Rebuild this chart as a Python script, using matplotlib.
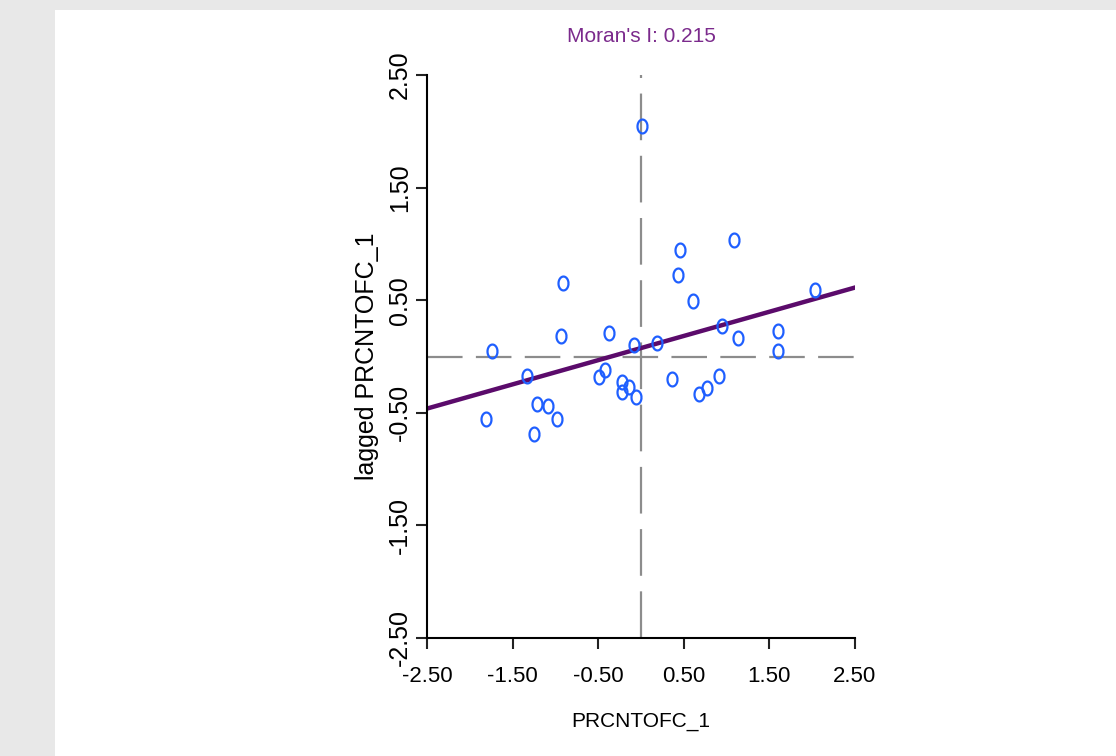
import numpy as np
import matplotlib
matplotlib.use("Agg")
import matplotlib.pyplot as plt
from matplotlib.path import Path
from matplotlib.patches import Rectangle

# standardised values and their spatial lags
x_vals = [-0.915, -0.935, -0.374, -1.744, -0.078, 0.187, 0.436, 0.456, 1.086, 0.611,
          0.950, 1.130, 1.604, 1.604, 2.033, -1.335, -0.491, -0.417, -0.225, -0.225,
          -0.137, -0.058, 0.366, 0.681, 0.775, 0.908, -1.211, -1.090, -0.985, -1.811,
          -1.250, 0.008]
y_vals = [0.653, 0.180, 0.210, 0.053, 0.104, 0.118, 0.724, 0.946, 1.035, 0.496,
          0.272, 0.162, 0.230, 0.053, 0.591, -0.171, -0.180, -0.124, -0.228, -0.316,
          -0.272, -0.361, -0.198, -0.337, -0.281, -0.175, -0.426, -0.443, -0.559, -0.559,
          -0.691, 2.048]
ticks = [-2.5, -1.5, -0.5, 0.5, 1.5, 2.5]
morans_i = 0.215
intercept = 0.075

font = ['Liberation Sans', 'DejaVu Sans']

fig = plt.figure(figsize=(11.16, 7.56), dpi=100)
fig.patch.set_facecolor('#e8e8e8')
fig.patches.append(Rectangle((55 / 1116, 0), 1, 1 - 10 / 756, transform=fig.transFigure,
                             facecolor='white', edgecolor='none', zorder=-10))

ax = fig.add_axes([427 / 1116, 1 - 638 / 756, 428 / 1116, 563 / 756])
ax.set_facecolor('none')
ax.set_xlim(-2.5, 2.5)
ax.set_ylim(-2.5, 2.5)

# reference lines through the origin
ax.axvline(0, color='#8c8c8c', lw=1.6, linestyle=(0, (21, 7)), zorder=1)
ax.axhline(0, color='#8c8c8c', lw=1.6, linestyle=(0, (16, 6)), zorder=1)

# points as narrow ellipses
t = np.linspace(0, 2 * np.pi, 40)
ellipse = Path(np.column_stack([0.72 * np.cos(t), np.sin(t)]))
ax.plot(x_vals, y_vals, linestyle='none', marker=ellipse, ms=10, mfc='none',
        mec='#1f5fff', mew=1.6, zorder=3)

# regression line, slope = Moran's I
xl = np.array([-2.5, 2.5])
ax.plot(xl, morans_i * xl + intercept, color='#5b0b6b', lw=3.2, zorder=2)

for s in ['top', 'right']:
    ax.spines[s].set_visible(False)
for s in ['left', 'bottom']:
    ax.spines[s].set_linewidth(1.5)

ax.set_xticks(ticks)
ax.set_yticks(ticks)
ax.set_xticklabels([f"{v:.2f}" for v in ticks], family=font, fontsize=16)
ax.set_yticklabels([f"{v:.2f}" for v in ticks], family=font, fontsize=18,
                   rotation=90, va='center')
ax.tick_params(length=8, width=1.5, color='#222222')
ax.tick_params(axis='y', pad=3)
ax.tick_params(axis='x', pad=12)

ax.set_xlabel('PRCNTOFC_1', family=font, fontsize=15, labelpad=18)
ax.set_ylabel('lagged PRCNTOFC_1', family=font, fontsize=18, labelpad=6)
ax.set_title("Moran's I: 0.215", family=font, fontsize=15, color='#7b2a8c', pad=24)

fig.savefig('out.png', dpi=100, facecolor=fig.get_facecolor())
